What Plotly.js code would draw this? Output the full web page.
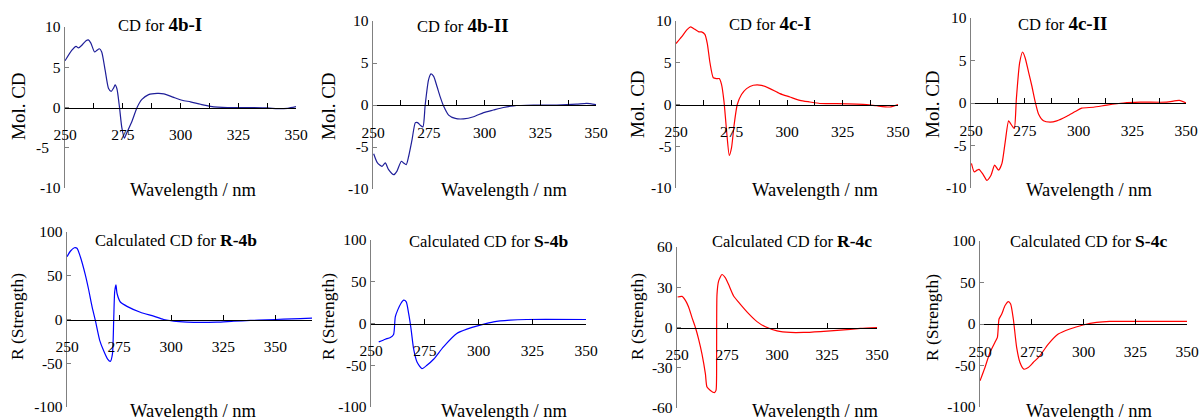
<!DOCTYPE html>
<html>
<head>
<meta charset="utf-8">
<script src="https://cdn.plot.ly/plotly-3.0.1.min.js"></script>
<style>html,body{margin:0;padding:0;background:#fff;}#chart{width:1200px;height:420px;}</style>
</head>
<body>
<div id="chart"></div>
<script>
// ---- data ----
const wl4bI = [250,252.9,254.8,255.8,257.2,259.1,260.1,261.2,262.8,263.8,264.9,265.9,267.4,268.8,270,271,271.7,272.5,273.6,274.6,275.7,276.8,279,281.2,283.3,286.2,289.9,292.8,297.1,300.7,304.3,308.7,313,320.3,326,337.7,342,346.4,350];
const cd4bI = [5.8,7.1,7.6,7.4,7.7,8.3,8.4,8.0,6.9,7.1,7.3,6.9,4.6,2.4,2.0,2.4,2.8,2.3,0,-2.5,-3.8,-3.1,-1.7,0,1.0,1.6,1.75,1.7,1.25,0.9,0.7,0.4,0.15,0,0,-0.05,-0.15,-0.1,0.1];

const wl4bII = [250.3,252,254,255.5,257,259.3,260.7,262.7,263.7,264.9,266,267.5,269,270,271.2,272.4,273.4,274.9,276,277.2,278.7,280.1,281.6,283.9,286.9,290.6,295.1,299.6,304,308.5,313,322,332.4,341.3,345.8,350];
const cd4bII = [-5.8,-6.9,-7.3,-6.9,-7.7,-8.3,-7.9,-6.7,-6.9,-7.1,-6.1,-4.15,-2.1,-2.1,-2.4,-2.6,0,3.0,3.7,3.4,2.2,1.0,-0.1,-1.2,-1.6,-1.65,-1.4,-0.9,-0.6,-0.3,-0.1,0,0,0.1,0.2,0.05];

const wl4cI = [250,252.5,255.1,256.6,258.5,260.3,261.5,263,264.1,265.3,266.8,268.3,269.5,270.5,271.6,272.8,274,275,276.2,277.6,279.5,281.8,284.8,288.5,292.3,296.8,301.3,305.8,310.3,314.8,322.3,335.8,340.3,346.3,350];
const cd4cI = [7.3,8.1,9.0,9.3,9.0,8.7,8.7,8.4,7.3,5.0,3.2,3.1,3.1,2.4,0.4,-3.2,-6.1,-5.2,-2.4,0,1.2,1.9,2.3,2.3,1.9,1.3,0.9,0.5,0.3,0.12,0.1,0,-0.15,-0.3,0];

const wl4cII = [250.2,251.5,252.8,253.7,255.6,257.4,259.3,261,262.8,264.4,265.9,267.5,268.6,270.1,271.1,272.6,274,275.2,276.8,278.3,279.9,281.4,283.7,286.8,289.9,294.6,298.5,301.5,307,313.2,320.9,328.6,341,346.9,350];
const cd4cII = [-7.1,-8.1,-7.9,-7.8,-8.4,-9.1,-8.5,-7.3,-7.9,-7.1,-4.6,-2.1,-2.5,-3.0,0.5,4.7,6.0,5.3,3.6,2.0,0.1,-1.3,-2.1,-2.25,-2.1,-1.55,-1.0,-0.6,-0.5,-0.25,0,0.1,0.1,0.3,0];

const wlR4b = [250,251.6,253.5,254.8,256.4,258.8,260.4,262,263.6,265.7,267.6,269.5,270.8,271.8,272.4,272.9,273.5,274,275.6,278.8,285.2,291.6,296.4,301.2,307.6,314,322,330,338,346,354,362,367.6];
const rR4b = [71.7,78,82,81.5,71.7,51,34,15,-1,-23.8,-35.8,-45.3,-47.9,-39.6,-1.9,32,39.6,30,20,15,8.3,3.8,0,-1.9,-3,-3.4,-3,-1.9,-1.1,-0.4,0.4,1.1,1.5];

const wlS4b = [253.6,256.7,259,260.5,261.3,262.4,263.9,265.2,266.4,267.5,268.6,269.8,271.4,273.7,276,279.1,283.7,289.9,294.6,300.8,307,314.7,322.4,350];
const rS4b = [-22,-18.8,-16.8,-13.2,8,16,24,28,26,12,-6,-30,-46,-54,-50,-42.8,-28,-12,-6.8,-2,2,4,4.8,4.8];

const wlR4c = [250.3,252.5,254.2,255.8,257.5,259.2,260.8,262.5,264.2,265,266.7,268.7,269.5,269.8,270,270.8,272.5,274.2,275.8,278.3,281.7,285.8,290,294.2,300,306.7,313.3,321.7,331.7,341.7,350];
const rR4c = [22.7,23.2,20.2,15.3,7.4,0,-8.6,-19.8,-34.6,-44.4,-46.9,-48.6,-46.9,-19.8,24.7,34.6,39.5,37,32,23.5,17.3,10.4,4.4,0.5,-2.5,-3.7,-3.7,-3,-2,-0.7,0];

const wlS4c = [250,252.4,254.8,257.2,258.4,259.2,260.5,262.1,263.7,264.8,266.1,267.7,269.3,271.2,273.3,275.7,278.9,283,287.8,293.4,299.8,306.3,312.7,324,350];
const rS4c = [-68.5,-52.4,-34.3,-22.2,-16.1,6,12,22.2,27,24.2,6,-28.2,-46.4,-54.4,-52.4,-46.4,-38.3,-24.2,-12.1,-6,-1.2,2,3.2,3.2,3.2];

const topTickVals = [250,262.5,275,287.5,300,312.5,325,337.5,350];
const topTickText = ['250','','275','','300','','325','','350'];
const botTickVals = [250,275,300,325,350];
const botTickText = ['250','275','300','325','350'];
const cdTicks = [-10,-5,0,5,10];
const cdTickText = ['-10','-5','0','5','10'];
const cdTickTextFirst = ['-10','-5\u00a0\u00a0\u00a0','0','5','10'];
const r100Ticks = [-100,-50,0,50,100];
const r100TickText = ['-100','-50','0','50','100'];
const r60Ticks = [-60,-30,0,30,60];
const r60TickText = ['-60','-30','0','30','60'];

const titles = ['CD for ', 'CD for ', 'CD for ', 'CD for ', 'Calculated CD for ', 'Calculated CD for ', 'Calculated CD for ', 'Calculated CD for '];
const boldNames = ['4b-I', '4b-II', '4c-I', '4c-II', 'R-4b', 'S-4b', 'R-4c', 'S-4c'];

// ---- layout helpers (pixel boxes) ----
const W = 1200, H = 420;
const panels = [
  {x:wl4bI, y:cd4bI, color:'#1f1f99', px:[65,296], py:[27,188], xr:[250,350], yr:[-10,10], yt:cdTicks, ytt:cdTickTextFirst, top:true, tpos:[160,24], xt:[193,190], ytl:[18,106], ytitle:'Mol. CD'},
  {x:wl4bII, y:cd4bII, color:'#1f1f99', px:[373,596], py:[21,189], xr:[250,350], yr:[-10,10], yt:cdTicks, ytt:cdTickText, top:true, tpos:[463,25], xt:[504,190], ytl:[328,106], ytitle:'Mol. CD'},
  {x:wl4cI, y:cd4cI, color:'#ff0000', px:[676,898], py:[21,188], xr:[250,350], yr:[-10,10], yt:cdTicks, ytt:cdTickText, top:true, tpos:[770,23], xt:[815,190], ytl:[637,104], ytitle:'Mol. CD'},
  {x:wl4cII, y:cd4cII, color:'#ff0000', px:[971,1186], py:[18,188], xr:[250,350], yr:[-10,10], yt:cdTicks, ytt:cdTickText, top:true, tpos:[1062,23], xt:[1089,190], ytl:[932,104], ytitle:'Mol. CD'},
  {x:wlR4b, y:rR4b, color:'#0000ff', px:[67,312], py:[232,407], xr:[250,367.6], yr:[-100,100], yt:r100Ticks, ytt:r100TickText, top:false, tpos:[176,240], xt:[193,412], ytl:[17,317], ytitle:'R (Strength)'},
  {x:wlS4b, y:rS4b, color:'#0000ff', px:[371,586], py:[240,407], xr:[250,350], yr:[-100,100], yt:r100Ticks, ytt:r100TickText, top:false, tpos:[489,241], xt:[504,412], ytl:[328,317], ytitle:'R (Strength)'},
  {x:wlR4c, y:rR4c, color:'#ff0000', px:[677,877], py:[247,408], xr:[250,350], yr:[-60,60], yt:r60Ticks, ytt:r60TickText, top:false, tpos:[792,241], xt:[815,412], ytl:[637,317], ytitle:'R (Strength)'},
  {x:wlS4c, y:rS4c, color:'#ff0000', px:[980,1187], py:[241,407], xr:[250,350], yr:[-100,100], yt:r100Ticks, ytt:r100TickText, top:false, tpos:[1088,241], xt:[1089,412], ytl:[932,317], ytitle:'R (Strength)'}
];

const font = '"Liberation Serif", "Times New Roman", Times, serif';
const traces = [];
const layout = {
  width: W, height: H,
  margin: {l:0, r:0, t:0, b:0},
  paper_bgcolor: '#ffffff', plot_bgcolor: 'rgba(0,0,0,0)',
  showlegend: false,
  font: {family: font, size: 15, color: '#000'},
  annotations: []
};
const fx = p => p / W;
const fy = p => 1 - p / H;

panels.forEach((p, i) => {
  const n = i + 1;
  const xa = 'x' + (n === 1 ? '' : n), ya = 'y' + (n === 1 ? '' : n);
  const xk = 'xaxis' + (n === 1 ? '' : n), yk = 'yaxis' + (n === 1 ? '' : n);
  traces.push({x: p.x, y: p.y, type: 'scatter', mode: 'lines', xaxis: xa, yaxis: ya,
    line: {color: p.color, width: 1.2, shape: 'spline', smoothing: 0.6}, hoverinfo: 'skip'});
  const yd = [fy(p.py[1]), fy(p.py[0])];
  const zeroPos = yd[0] + (0 - p.yr[0]) / (p.yr[1] - p.yr[0]) * (yd[1] - yd[0]);
  layout[xk] = {
    domain: [fx(p.px[0]), fx(p.px[1])], range: p.xr, anchor: 'free', position: zeroPos,
    showgrid: false, zeroline: false, showline: true, linecolor: '#000', linewidth: 1.2,
    ticks: 'inside', ticklen: 5, tickcolor: '#000', tickwidth: 1,
    tickvals: p.top ? topTickVals : botTickVals, ticktext: p.top ? topTickText : botTickText,
    ticklabelstandoff: 13, tickfont: {family: font, size: 15.5, color: '#000'}, fixedrange: true
  };
  layout[yk] = {
    domain: yd, range: p.yr, anchor: xa,
    showgrid: false, zeroline: false, showline: true, linecolor: '#808080', linewidth: 1.3,
    ticks: 'inside', ticklen: 4, tickcolor: '#808080', tickwidth: 1,
    tickvals: p.yt, ticktext: p.ytt, tickfont: {family: font, size: 15.5, color: '#000'}, fixedrange: true
  };
  const big = p.top ? 19 : 17.5;
  layout.annotations.push({
    text: titles[i] + '<span style="font-size:' + big + 'px"><b>' + boldNames[i] + '</b></span>',
    xref: 'paper', yref: 'paper', x: fx(p.tpos[0]), y: fy(p.tpos[1]), xanchor: 'center', yanchor: 'middle',
    showarrow: false, font: {family: font, size: 16.5, color: '#000'}
  });
  layout.annotations.push({
    text: 'Wavelength / nm', xref: 'paper', yref: 'paper', x: fx(p.xt[0]), y: p.top ? fy(p.xt[1]) : 0,
    xanchor: 'center', yanchor: p.top ? 'middle' : 'bottom', yshift: p.top ? 0 : -3, showarrow: false,
    font: {family: font, size: 18.5, color: '#000'}
  });
  layout.annotations.push({
    text: p.ytitle, xref: 'paper', yref: 'paper', x: fx(p.ytl[0]), y: fy(p.ytl[1]),
    xanchor: 'center', yanchor: 'middle', textangle: -90, showarrow: false,
    font: {family: font, size: p.top ? 19 : 17.5, color: '#000'}
  });
});

Plotly.newPlot('chart', traces, layout, {staticPlot: true, displayModeBar: false});
</script>
</body>
</html>
